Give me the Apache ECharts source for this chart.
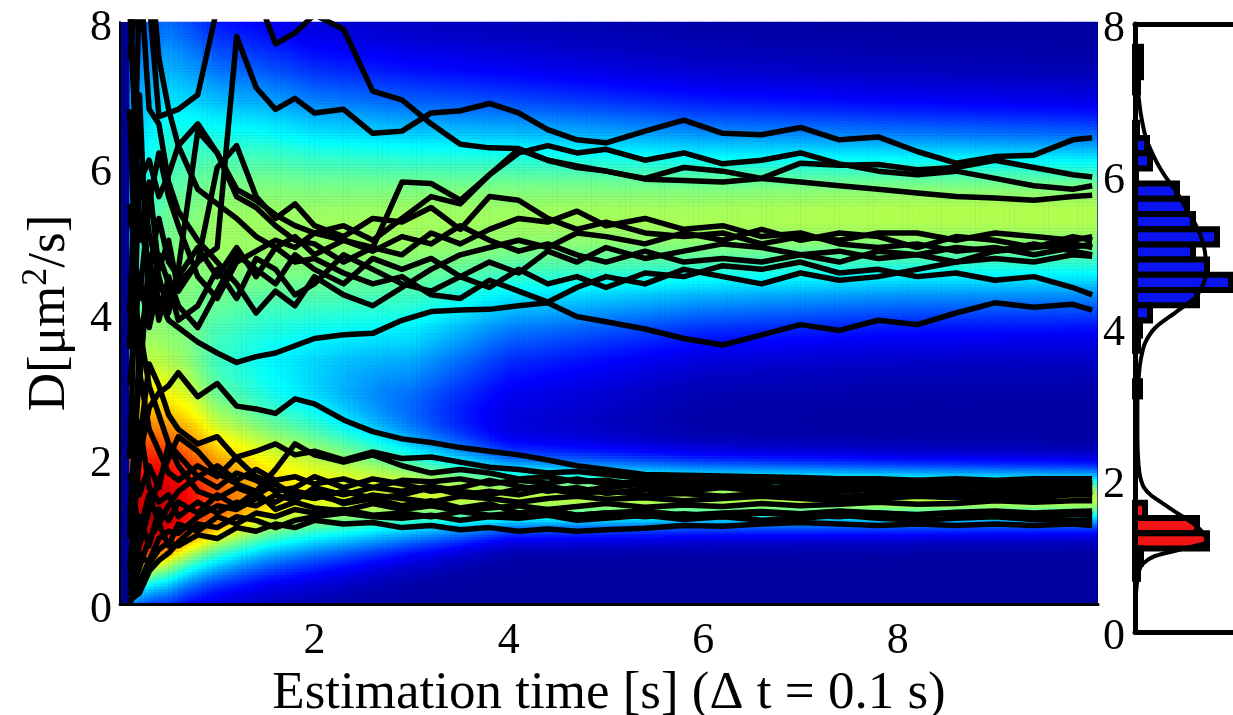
<!DOCTYPE html>
<html><head><meta charset="utf-8">
<script src="https://cdn.jsdelivr.net/npm/echarts@6/dist/echarts.min.js"></script>
<style>html,body{margin:0;padding:0;background:#fff}#c{width:1233px;height:715px}</style>
</head><body><div id="c"></div>
<script>
// ---------- axis ticks ----------
const xTickLabels = [2, 4, 6, 8];
const yTickLabels = [0, 2, 4, 6, 8];

// ---------- trajectory sample times (s) ----------
const T = [0.1,0.2,0.3,0.4,0.5,0.6,0.8,1.0,1.2,1.4,1.6,1.8,2.0,2.3,2.6,2.9,3.2,3.5,3.8,4.1,4.4,4.7,5.0,5.4,5.8,6.2,6.6,7.0,7.4,7.8,8.2,8.6,9.0,9.4,9.8,10.0];

// ---------- trajectories, upper population (D in um^2/s) ----------
const u01 = [3.0,4.5,3.8,4.4,4.2,4.4,4.7,4.9,7.8,7.1,6.8,6.95,6.75,6.8,6.47,6.5,6.75,6.78,6.88,6.75,6.52,6.38,6.34,6.5,6.65,6.47,6.45,6.55,6.38,6.42,6.22,6.06,6.15,6.17,6.38,6.41];
const u02 = [9.5,9.0,8.3,6.7,6.75,6.8,7.0,8.2,8.8,8.4,7.7,7.85,8.1,7.9,7.05,6.93,6.6,6.32,6.27,6.26,6.1,6.02,5.95,5.84,5.82,5.8,5.85,6.06,6.03,6.04,5.97,6.0,6.1,6.0,5.9,5.87];
const u03 = [5.2,5.8,6.1,5.6,5.9,6.3,6.6,6.2,5.7,5.55,5.35,5.2,5.1,5.0,4.9,5.8,5.78,5.55,5.9,6.25,6.1,6.0,5.95,5.85,6.0,5.95,5.85,5.8,5.75,5.7,5.65,5.6,5.58,5.55,5.6,5.62];
const u04 = [1.0,3.5,4.5,4.2,3.9,3.8,3.6,3.45,3.32,3.4,3.45,3.55,3.65,3.7,3.72,3.9,4.02,4.04,4.05,4.1,4.14,3.95,3.88,3.78,3.65,3.56,3.7,3.84,3.76,3.9,3.84,4.0,4.14,4.08,4.12,4.04];
const u05 = [8.5,5.0,5.8,4.6,5.0,4.3,4.7,6.0,6.3,5.6,5.3,5.5,5.2,5.05,5.3,5.25,5.45,5.15,5.6,5.55,5.3,5.15,5.25,5.1,5.05,5.1,4.95,5.05,5.0,5.1,5.1,5.0,5.1,5.05,5.0,5.05];
const u06 = [2.0,6.0,5.1,4.5,4.0,4.6,6.5,6.2,5.6,5.45,5.2,5.0,4.95,4.7,4.9,4.8,5.1,4.95,5.15,5.3,5.25,5.4,5.2,5.3,5.15,5.2,5.05,5.1,4.95,4.9,4.95,4.85,4.9,4.8,4.9,4.95];
const u07 = [6.8,3.0,4.8,3.9,4.5,4.1,3.8,4.3,4.8,4.6,4.4,4.8,4.6,4.4,4.75,4.6,4.75,4.5,4.7,4.55,4.85,4.7,4.9,4.75,4.85,4.95,4.9,4.8,4.85,4.75,4.8,4.9,4.85,4.95,4.85,4.8];
const u08 = [4.0,7.0,4.0,4.8,4.4,3.9,4.1,4.6,4.2,4.75,4.6,4.25,4.4,4.8,4.6,4.4,4.3,4.5,4.35,4.6,4.4,4.5,4.35,4.55,4.5,4.65,4.6,4.7,4.55,4.6,4.5,4.55,4.45,4.5,4.35,4.25];
const u09 = [7.5,8.8,6.8,6.6,5.8,5.4,5.0,4.7,4.4,4.0,4.3,4.1,4.5,4.25,4.1,4.35,4.6,4.8,4.9,5.0,4.9,5.1,5.05,4.95,5.1,5.0,5.15,5.0,5.1,5.05,4.9,5.05,5.0,4.9,4.95,4.9];
const u10 = [5.5,4.2,5.5,6.2,5.6,5.2,4.5,4.2,4.7,4.85,5.0,4.9,5.1,5.2,5.0,5.3,5.6,5.5,5.9,6.2,6.3,6.2,6.25,6.1,6.2,6.05,6.1,6.2,6.05,5.95,5.9,5.95,5.85,5.75,5.7,5.75];
const u11 = [8.2,5.3,4.6,5.3,4.7,4.5,4.9,4.5,4.9,4.5,4.9,4.7,4.75,4.55,4.4,4.5,4.25,4.2,4.45,4.3,4.15,4.35,4.5,4.4,4.6,4.5,4.4,4.55,4.45,4.5,4.6,4.7,4.75,4.7,4.8,4.78];
const u12 = [3.5,8.5,9.0,7.5,6.8,6.3,5.7,5.5,5.3,5.05,4.9,5.05,4.8,5.0,4.85,5.05,4.95,5.2,5.0,4.85,4.95,4.8,4.7,4.85,4.7,4.75,4.7,4.8,4.7,4.85,4.8,4.7,4.85,4.9,5.05,5.0];

// ---------- trajectories, lower population ----------
const l01 = [0.5,2.0,2.7,2.9,3.0,3.18,2.85,3.03,2.72,2.68,2.62,2.82,2.75,2.53,2.37,2.27,2.22,2.15,2.1,2.05,1.98,1.9,1.85,1.78,1.77,1.76,1.75,1.74,1.72,1.72,1.7,1.72,1.7,1.72,1.72,1.72];
const l02 = [1.2,3.2,2.4,2.1,1.8,1.7,1.9,1.75,2.02,2.1,2.2,2.05,2.1,1.98,2.09,2.0,2.02,1.95,1.88,1.85,1.8,1.82,1.78,1.72,1.7,1.72,1.68,1.7,1.66,1.68,1.65,1.66,1.67,1.64,1.66,1.68];
const l03 = [0.2,0.8,1.3,1.7,2.0,2.3,2.1,1.8,1.65,1.55,1.85,2.2,2.05,1.95,2.05,1.9,1.8,1.85,1.8,1.72,1.75,1.68,1.7,1.62,1.66,1.6,1.62,1.58,1.62,1.6,1.63,1.6,1.62,1.6,1.62,1.62];
const l04 = [0.1,0.5,0.9,1.1,1.35,1.55,1.75,1.6,1.8,1.7,1.55,1.6,1.75,1.6,1.72,1.65,1.55,1.6,1.7,1.62,1.55,1.6,1.52,1.58,1.55,1.6,1.55,1.52,1.55,1.58,1.55,1.52,1.56,1.58,1.56,1.58];
const l05 = [2.5,1.5,1.9,1.6,2.2,1.9,1.55,1.45,1.6,1.5,1.65,1.5,1.45,1.55,1.45,1.5,1.6,1.5,1.55,1.5,1.58,1.52,1.55,1.5,1.52,1.48,1.52,1.5,1.48,1.5,1.52,1.5,1.48,1.5,1.53,1.55];
const l06 = [0.0,0.3,0.6,0.9,1.0,0.97,1.2,1.35,1.3,1.45,1.4,1.55,1.5,1.4,1.5,1.45,1.4,1.48,1.45,1.4,1.45,1.48,1.44,1.46,1.42,1.45,1.48,1.45,1.42,1.45,1.48,1.46,1.44,1.46,1.5,1.5];
const l07 = [0.4,1.2,0.8,1.3,1.15,1.4,1.25,1.5,1.35,1.55,1.3,1.4,1.32,1.28,1.38,1.3,1.35,1.28,1.32,1.35,1.3,1.34,1.38,1.33,1.36,1.34,1.38,1.35,1.37,1.4,1.37,1.38,1.42,1.4,1.42,1.42];
const l08 = [1.8,1.0,1.5,1.1,0.8,1.1,1.0,1.2,1.1,1.25,1.2,1.3,1.25,1.3,1.22,1.25,1.2,1.27,1.22,1.25,1.28,1.22,1.25,1.28,1.22,1.25,1.27,1.24,1.28,1.25,1.23,1.26,1.28,1.25,1.27,1.28];
const l09 = [0.3,0.7,0.55,0.75,0.85,0.8,0.95,0.9,1.05,1.0,1.1,1.05,1.15,1.1,1.12,1.05,1.08,1.02,1.05,1.0,1.03,1.0,1.02,1.04,1.08,1.07,1.1,1.12,1.1,1.08,1.1,1.08,1.1,1.08,1.1,1.08];
const l10 = [2.0,2.5,1.6,1.4,1.5,1.2,1.4,1.25,1.4,1.35,1.5,1.42,1.6,1.5,1.6,1.55,1.62,1.55,1.5,1.58,1.62,1.55,1.6,1.65,1.58,1.62,1.58,1.62,1.6,1.55,1.58,1.55,1.52,1.55,1.52,1.5];
const l11 = [4.5,3.8,3.0,2.6,2.2,2.05,1.75,1.9,1.7,1.85,1.7,1.75,1.65,1.72,1.6,1.7,1.68,1.72,1.65,1.7,1.66,1.72,1.65,1.68,1.62,1.66,1.7,1.65,1.68,1.65,1.7,1.68,1.65,1.68,1.66,1.65];
const l12 = [0.9,2.2,3.3,3.0,2.6,2.4,2.2,2.3,2.0,1.75,1.65,1.45,1.55,1.38,1.45,1.35,1.42,1.32,1.38,1.25,1.3,1.22,1.25,1.2,1.24,1.2,1.25,1.22,1.2,1.25,1.22,1.25,1.22,1.2,1.23,1.22];
const l13 = [0.05,0.15,0.45,0.6,0.7,0.85,1.1,1.05,1.2,1.15,1.05,1.15,1.2,1.25,1.2,1.18,1.22,1.15,1.2,1.18,1.22,1.15,1.18,1.22,1.16,1.2,1.15,1.18,1.22,1.18,1.15,1.18,1.2,1.16,1.15,1.15];

const trajectories = [u01,u02,u03,u04,u05,u06,u07,u08,u09,u10,u11,u12,l01,l02,l03,l04,l05,l06,l07,l08,l09,l10,l11,l12,l13];

// ---------- background density: band parameters read at these times ----------
const bandT          = [0.1, 0.2, 0.35, 0.5, 0.7, 1.0, 1.5, 2.0, 3.0, 4.0, 6.0, 8.0, 10.1];
const upperCenter    = [4.6, 4.7, 4.85, 4.95, 5.0, 5.1, 5.2, 5.2, 5.25, 5.3, 5.3, 5.35, 5.35];
const upperSigmaUp   = [2.8, 2.7, 2.5, 2.4, 2.1, 1.7, 1.5, 1.35, 1.2, 1.1, 0.95, 0.85, 0.8];
const upperSigmaDown = [2.2, 2.1, 2.0, 1.95, 1.9, 1.8, 1.65, 1.55, 1.3, 1.1, 0.95, 0.9, 0.88];
const upperPeak      = [0.33, 0.38, 0.42, 0.45, 0.47, 0.5, 0.5, 0.5, 0.5, 0.5, 0.51, 0.52, 0.52];
const lowerCenter    = [0.7, 0.9, 1.05, 1.15, 1.25, 1.35, 1.45, 1.5, 1.5, 1.45, 1.45, 1.45, 1.45];
const lowerSigmaUp   = [1.6, 1.5, 1.4, 1.3, 1.2, 1.0, 0.9, 0.8, 0.5, 0.38, 0.33, 0.3, 0.28];
const lowerSigmaDown = [0.45, 0.5, 0.55, 0.6, 0.6, 0.6, 0.6, 0.58, 0.45, 0.3, 0.28, 0.27, 0.26];
const lowerPeak      = [0.72, 0.82, 0.84, 0.82, 0.77, 0.7, 0.6, 0.55, 0.52, 0.52, 0.52, 0.53, 0.53];
const gapCenter = 3.0, gapSigma = 0.9;
const gapPeak        = [0, 0, 0, 0, 0, 0, 0.02, 0.03, 0.1, 0.04, 0, 0, 0];
const densityFloor = 0.03;

// ---------- right panel histogram ----------
const histUpperBins   = [7.6, 7.4, 7.2, 6.6, 6.4, 6.2, 6.0, 5.8, 5.6, 5.4, 5.2, 5.0, 4.8, 4.6, 4.4, 4.2, 4.0, 3.8, 3.2];
const histUpperCounts = [3, 3, 1.5, 1, 6, 7.5, 0.5, 21, 26, 29, 41, 29, 36, 48, 31, 7.5, 2.5, 1.5, 2.5];
const histLowerBins   = [1.6, 1.4, 1.2, 1.0, 0.8];
const histLowerCounts = [5, 31, 36, 3, 1.5];
const curveD      = [8.0, 7.5, 7.2, 7.0, 6.8, 6.5, 6.2, 6.0, 5.8, 5.6, 5.4, 5.2, 5.0, 4.8, 4.6, 4.4, 4.2, 4.0, 3.8, 3.6, 3.4, 3.0, 2.6, 2.3, 2.1, 2.0, 1.9, 1.8, 1.7, 1.6, 1.5, 1.4, 1.3, 1.2, 1.1, 1.0, 0.9, 0.8, 0.6, 0.4, 0.0];
const curveValues = [0.2, 0.6, 1.2, 2.0, 3.0, 5.5, 10.5, 15, 20.5, 25, 29.5, 33, 35, 35.5, 34.5, 30, 20, 10, 5, 3, 2, 1.2, 1.2, 1.5, 2.2, 3, 4.5, 8, 13.5, 19, 25, 30.5, 34, 36, 25, 10, 4, 2, 0.8, 0.3, 0];
const HIST_BIN = 0.2;

// ---------- layout ----------
const FONT = "'Liberation Serif', 'Times New Roman', serif";
const MAIN = {left: 120, top: 22, width: 978, height: 582};
const X_MAX = 10.06;
const HEAT_T0 = 0.1, HEAT_T1 = 10.05, HEAT_DT = 0.05, HEAT_DD = 0.04, D_MAX = 8;
const pxPerT = MAIN.width / X_MAX;
const HIST = {left: 1135, top: 24, width: 98, height: 608};
const HIST_PX_PER_COUNT = 2;

function interp(xs, ys, x) {
  if (x <= xs[0]) return ys[0];
  for (let i = 1; i < xs.length; i++) {
    if (x <= xs[i]) { const f = (x - xs[i-1]) / (xs[i] - xs[i-1]); return ys[i-1] + f * (ys[i] - ys[i-1]); }
  }
  return ys[ys.length - 1];
}
function bandValue(D, c, sUp, sDn) { const s = D >= c ? sUp : sDn; const z = (D - c) / s; return Math.exp(-0.5 * z * z); }

const nT = Math.round((HEAT_T1 - HEAT_T0) / HEAT_DT);
const nD = Math.round(D_MAX / HEAT_DD);
const tCats = [], dCats = [], heat = [];
for (let i = 0; i < nT; i++) tCats.push((HEAT_T0 + (i + 0.5) * HEAT_DT).toFixed(3));
for (let j = 0; j < nD; j++) dCats.push(((j + 0.5) * HEAT_DD).toFixed(3));
for (let i = 0; i < nT; i++) {
  const t = HEAT_T0 + (i + 0.5) * HEAT_DT;
  const cU = interp(bandT, upperCenter, t), sUu = interp(bandT, upperSigmaUp, t), sUd = interp(bandT, upperSigmaDown, t), aU = interp(bandT, upperPeak, t);
  const cL = interp(bandT, lowerCenter, t), sLu = interp(bandT, lowerSigmaUp, t), sLd = interp(bandT, lowerSigmaDown, t), aL = interp(bandT, lowerPeak, t);
  const aG = interp(bandT, gapPeak, t);
  for (let j = 0; j < nD; j++) {
    const D = (j + 0.5) * HEAT_DD;
    const v = densityFloor + aU * bandValue(D, cU, sUu, sUd) + aL * bandValue(D, cL, sLu, sLd)
            + aG * bandValue(D, gapCenter, gapSigma, gapSigma);
    heat.push([i, j, Math.min(1, v)]);
  }
}

const jet = ['#000080','#0000ff','#0080ff','#00ffff','#80ff80','#ffff00','#ff8000','#ff0000','#800000'];

const series = [];
series.push({type: 'heatmap', xAxisIndex: 1, yAxisIndex: 1, data: heat, progressive: 0, silent: true, z: 1});
trajectories.forEach(arr => {
  series.push({
    type: 'line', xAxisIndex: 0, yAxisIndex: 0, data: T.map((t, i) => [t, arr[i]]),
    symbol: 'none', clip: true, silent: true, z: 3,
    lineStyle: {color: '#000', width: 5.5, join: 'round'}
  });
});
function histSeries(bins, counts, color) {
  return {
    type: 'custom', xAxisIndex: 2, yAxisIndex: 2, silent: true, z: 3,
    data: bins.map((d, i) => [counts[i], d]),
    renderItem: (params, api) => {
      const c = api.value(0), d = api.value(1);
      const p0 = api.coord([0, d + HIST_BIN / 2]);
      const p1 = api.coord([c, d - HIST_BIN / 2]);
      return {type: 'rect', shape: {x: p0[0], y: p0[1], width: p1[0] - p0[0], height: p1[1] - p0[1]},
              style: {fill: color, stroke: '#000', lineWidth: 6}};
    }
  };
}
series.push(histSeries(histUpperBins, histUpperCounts, '#0a14ee'));
series.push(histSeries(histLowerBins, histLowerCounts, '#f01414'));
series.push({
  type: 'line', xAxisIndex: 2, yAxisIndex: 2, data: curveD.map((d, i) => [curveValues[i], d]),
  symbol: 'none', smooth: 0.3, silent: true, z: 4, lineStyle: {color: '#000', width: 4}
});

const labelStyle = {fontFamily: FONT, fontSize: 44, color: '#000'};
const boxLine = {show: true, lineStyle: {color: '#000', width: 5}};
const fixedGrid = {outerBoundsMode: 'none', containLabel: false};

const option = {
  animation: false,
  backgroundColor: '#fff',
  grid: [
    Object.assign({left: MAIN.left, top: MAIN.top, width: MAIN.width, height: MAIN.height, show: true, backgroundColor: '#00008c', borderWidth: 0, borderColor: 'transparent'}, fixedGrid),
    Object.assign({left: MAIN.left + HEAT_T0 * pxPerT, top: MAIN.top, width: (HEAT_T1 - HEAT_T0) * pxPerT, height: MAIN.height}, fixedGrid),
    Object.assign({left: HIST.left, top: HIST.top, width: HIST.width, height: HIST.height}, fixedGrid)
  ],
  visualMap: {type: 'continuous', show: false, min: 0, max: 1, seriesIndex: 0, dimension: 2, inRange: {color: jet}},
  xAxis: [
    {gridIndex: 0, type: 'value', min: 0, max: X_MAX, interval: 2, z: 10,
     axisLine: {show: true, lineStyle: {color: '#000', width: 3}}, axisTick: {show: false}, splitLine: {show: false},
     axisLabel: Object.assign({margin: 15, formatter: v => xTickLabels.includes(v) ? String(v) : ''}, labelStyle),
     name: 'Estimation time [s] (\u0394 t = 0.1 s)', nameLocation: 'middle', nameGap: 47,
     nameTextStyle: {fontFamily: FONT, fontSize: 53, color: '#000'}},
    {gridIndex: 1, type: 'category', data: tCats, show: false},
    {gridIndex: 2, type: 'value', min: 0, max: HIST.width / HIST_PX_PER_COUNT, position: 'bottom',
     axisLine: boxLine, axisTick: {show: false}, axisLabel: {show: false}, splitLine: {show: false}},
    {gridIndex: 2, type: 'value', min: 0, max: HIST.width / HIST_PX_PER_COUNT, position: 'top',
     axisLine: boxLine, axisTick: {show: false}, axisLabel: {show: false}, splitLine: {show: false}}
  ],
  yAxis: [
    {gridIndex: 0, type: 'value', min: 0, max: D_MAX, interval: 2, z: 10,
     axisLine: {show: true, lineStyle: {color: '#000', width: 2}}, axisTick: {show: false}, splitLine: {show: false},
     axisLabel: Object.assign({margin: 8, verticalAlign: 'top', lineHeight: 12, formatter: v => yTickLabels.includes(v) ? String(v) : ''}, labelStyle),
     name: '{a|D[\u03bcm}{b|2}{a|/s]}', nameLocation: 'middle', nameRotate: 90, nameGap: 43,
     nameTextStyle: {rich: {
       a: {fontFamily: FONT, fontSize: 53, color: '#000', lineHeight: 58, verticalAlign: 'bottom'},
       b: {fontFamily: FONT, fontSize: 36, color: '#000', lineHeight: 38, verticalAlign: 'top'}
     }}},
    {gridIndex: 1, type: 'category', data: dCats, show: false},
    {gridIndex: 2, type: 'value', min: 0, max: D_MAX, interval: 2, z: 5,
     axisLine: boxLine, axisTick: {show: false}, splitLine: {show: false},
     axisLabel: Object.assign({margin: 10, verticalAlign: 'top', lineHeight: 10, formatter: v => yTickLabels.includes(v) ? String(v) : ''}, labelStyle)}
  ],
  series: series
};

const chart = echarts.init(document.getElementById('c'), null, {renderer: 'canvas'});
chart.setOption(option);
</script></body></html>
